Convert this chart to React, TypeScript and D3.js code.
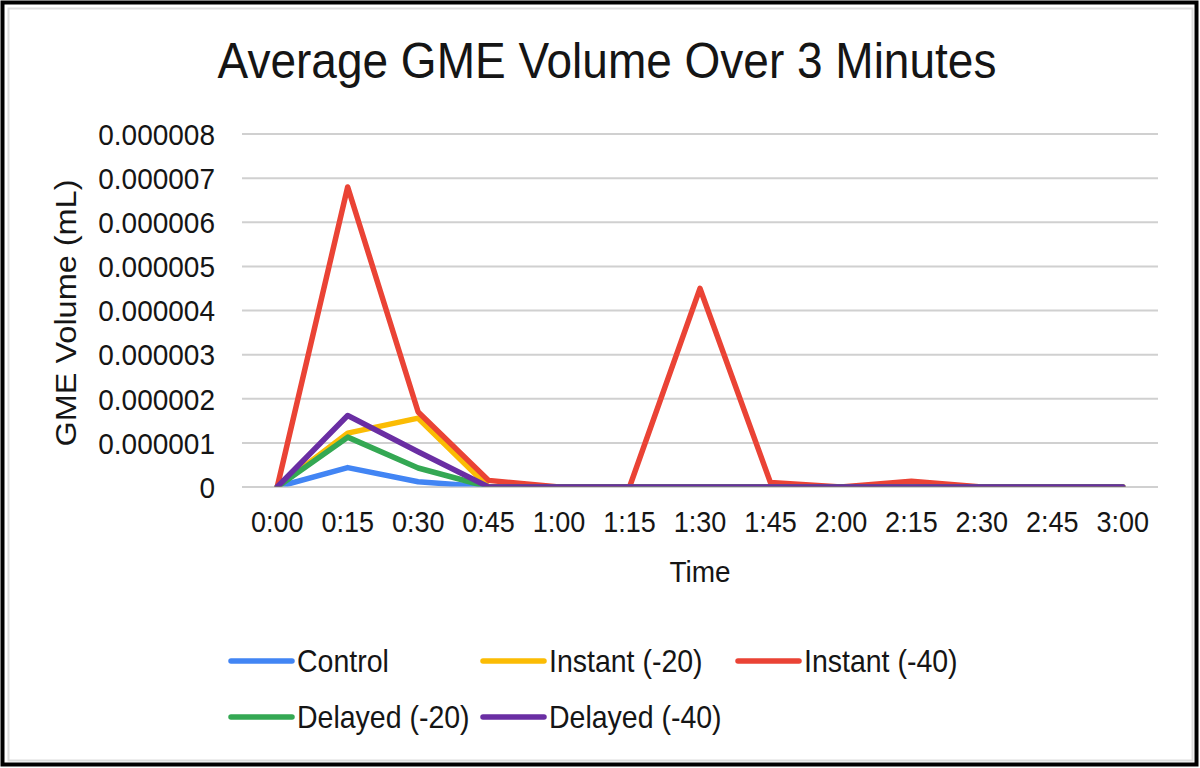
import React from "react";
import * as d3 from "d3";

const times = ["0:00", "0:15", "0:30", "0:45", "1:00", "1:15", "1:30", "1:45", "2:00", "2:15", "2:30", "2:45", "3:00"];
const control = [0, 0.44, 0.12, 0, 0, 0, 0, 0, 0, 0, 0, 0, 0];
const instant20 = [0, 1.22, 1.56, 0, 0, 0, 0, 0, 0, 0, 0, 0, 0];
const instant40 = [0, 6.8, 1.7, 0.15, 0, 0, 4.5, 0.1, 0, 0.13, 0, 0, 0];
const delayed20 = [0, 1.13, 0.43, 0, 0, 0, 0, 0, 0, 0, 0, 0, 0];
const delayed40 = [0, 1.62, 0.8, 0, 0, 0, 0, 0, 0, 0, 0, 0, 0];
const yTicks = [0, 1, 2, 3, 4, 5, 6, 7, 8];
const yTickLabels = ["0", "0.000001", "0.000002", "0.000003", "0.000004", "0.000005", "0.000006", "0.000007", "0.000008"];
const seriesNames = ["Control", "Instant (-20)", "Instant (-40)", "Delayed (-20)", "Delayed (-40)"];
const seriesColors = ["#4285F4", "#FBBC04", "#EA4335", "#34A853", "#6A2EA3"];
const seriesValues = [control, instant20, instant40, delayed20, delayed40];

const W = 1200;
const H = 768;
const FONT = "'Liberation Sans', Arial, sans-serif";
const SY = 1.07;
const INK = "#151515";

function T({ x, y, size, anchor = "start", dy = "0", children }: any) {
  return (
    <g transform={`translate(${x},${y}) scale(1,${SY})`}>
      <text x={0} y={0} dy={dy} textAnchor={anchor} fontFamily={FONT} fontSize={size} fill={INK}>
        {children}
      </text>
    </g>
  );
}

export default function App() {
  const x = d3.scaleBand<string>().domain(times).range([242, 1158]);
  const y = d3.scaleLinear().domain([0, 8e-6]).range([487, 134]);
  const cx = (t: string) => (x(t) as number) + x.bandwidth() / 2;
  const line = d3
    .line<number>()
    .x((_, i) => cx(times[i]))
    .y((v) => y(v * 1e-6));

  const legendCols = [229, 481, 736];
  const legendRows = [661, 717];

  return (
    <svg width={W} height={H} style={{ position: "absolute", left: 0, top: 0, background: "#fff" }}>
      <defs>
        <clipPath id="plotClip">
          <rect x={200} y={100} width={1000} height={y(0) - 100 - 0.5} />
        </clipPath>
      </defs>
      <rect x={0} y={0} width={W} height={H} fill="#fff" />
      <rect x={2.5} y={2.5} width={1194} height={762} fill="none" stroke="#000" strokeWidth={4} />
      <rect x={8.5} y={8.5} width={1184} height={752} fill="none" stroke="#dcdcdc" strokeWidth={2} />

      <T x={607} y={78} size={46} anchor="middle">
        Average GME Volume Over 3 Minutes
      </T>

      {yTicks.map((t, i) => (
        <g key={t}>
          <line x1={242} x2={1158} y1={y(t * 1e-6)} y2={y(t * 1e-6)} stroke="#d0d0d0" strokeWidth={2} />
          <T x={215} y={y(t * 1e-6)} dy="0.36em" anchor="end" size={28}>
            {yTickLabels[i]}
          </T>
        </g>
      ))}

      <g transform="translate(76,313) rotate(-90) scale(1.12,1)">
        <text x={0} y={0} textAnchor="middle" fontFamily={FONT} fontSize={29} fill={INK}>
          GME Volume (mL)
        </text>
      </g>

      {times.map((t) => (
        <T key={t} x={cx(t)} y={532} anchor="middle" size={27}>
          {t}
        </T>
      ))}
      <T x={700} y={582} anchor="middle" size={28}>
        Time
      </T>

      <g clipPath="url(#plotClip)">
        {seriesValues.map((vals, i) => (
          <path
            key={seriesNames[i]}
            d={line(vals) as string}
            fill="none"
            stroke={seriesColors[i]}
            strokeWidth={5.5}
            strokeLinejoin="round"
            strokeLinecap="round"
          />
        ))}
      </g>

      {seriesNames.map((name, i) => {
        const col = i % 3;
        const row = Math.floor(i / 3);
        const lx = legendCols[col];
        const ly = legendRows[row];
        return (
          <g key={name}>
            <line x1={lx + 2} x2={lx + 63} y1={ly} y2={ly} stroke={seriesColors[i]} strokeWidth={5.5} strokeLinecap="round" />
            <T x={lx + 68} y={ly} dy="0.36em" size={28.5}>
              {name}
            </T>
          </g>
        );
      })}
    </svg>
  );
}
